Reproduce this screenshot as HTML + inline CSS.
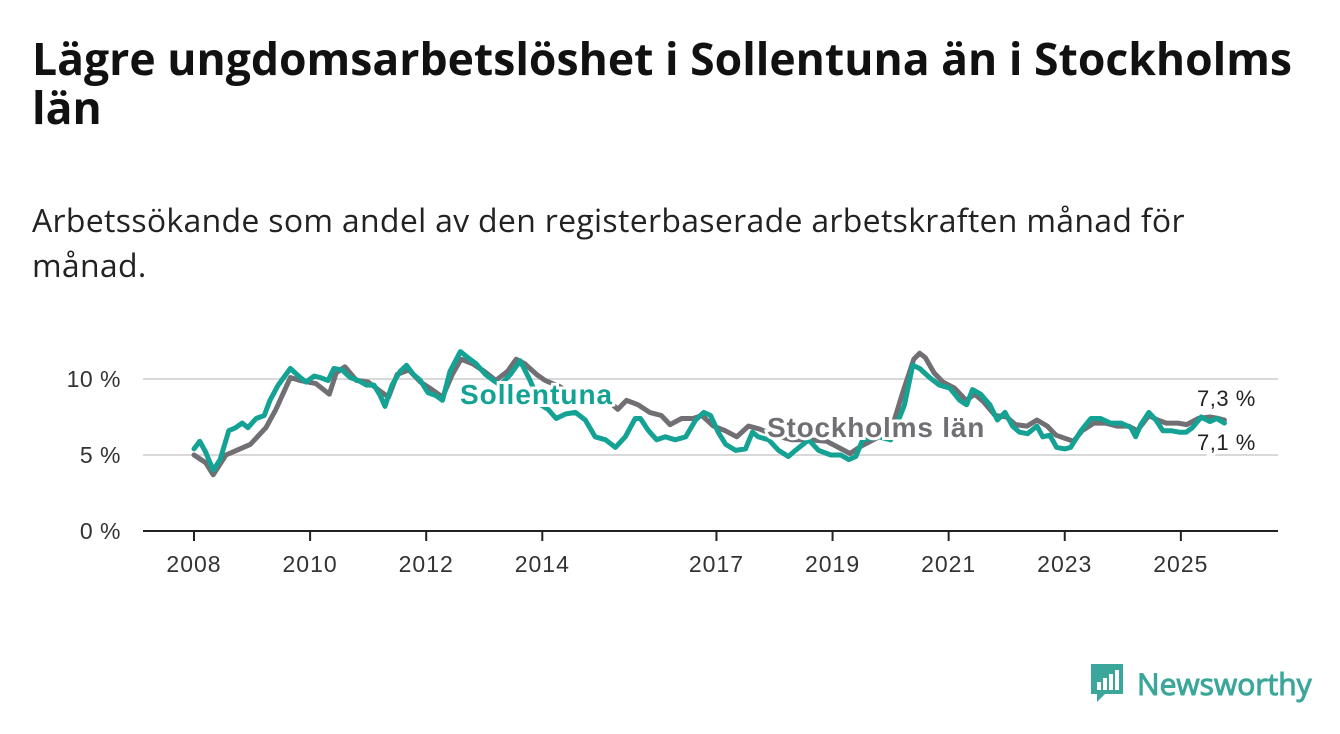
<!DOCTYPE html>
<html><head><meta charset="utf-8"><style>
body{margin:0;width:1340px;height:734px;background:#fff;font-family:"Open Sans","Liberation Sans",sans-serif;overflow:hidden;position:relative}
h1{position:absolute;left:32px;top:34px;margin:0;width:1275px;font-size:44.5px;line-height:49px;font-weight:bold;color:#111}
.sub{position:absolute;left:32px;top:198px;width:1200px;font-size:32px;line-height:45px;color:#222;letter-spacing:0.3px}
svg{position:absolute;left:0;top:0}
</style></head><body>
<h1>Lägre ungdomsarbetslöshet i Sollentuna än i Stockholms län</h1>
<div class="sub">Arbetssökande som andel av den registerbaserade arbetskraften månad för månad.</div>
<svg id="chart" width="1340" height="734"></svg>
<div style="position:absolute;left:1089px;top:662px;display:flex;align-items:center">
<svg width="36" height="42" style="position:static"><path d="M2 2h32v30H16l-8 8v-8H2z" fill="#3aa79a"/><rect x="8" y="20" width="4" height="8" fill="#fff"/><rect x="14" y="16" width="4" height="12" fill="#fff"/><rect x="20" y="12" width="4" height="16" fill="#fff"/><rect x="26" y="8" width="4" height="20" fill="#fff"/></svg>
<span style="margin-left:12px;font-size:30px;color:#3aa79a;font-weight:normal;-webkit-text-stroke:1px #3aa79a">Newsworthy</span></div>
<script>
const tealYears=[2008.0,2008.1,2008.2,2008.33,2008.45,2008.6,2008.72,2008.83,2008.93,2009.07,2009.21,2009.31,2009.45,2009.66,2009.83,2009.93,2010.07,2010.17,2010.31,2010.41,2010.55,2010.69,2010.83,2010.97,2011.1,2011.21,2011.29,2011.41,2011.55,2011.66,2011.78,2011.9,2012.03,2012.17,2012.28,2012.41,2012.59,2012.72,2012.86,2013.02,2013.16,2013.28,2013.45,2013.62,2013.79,2013.97,2014.1,2014.24,2014.4,2014.57,2014.74,2014.91,2015.09,2015.26,2015.43,2015.6,2015.69,2015.83,2015.97,2016.12,2016.29,2016.47,2016.64,2016.78,2016.9,2017.03,2017.16,2017.33,2017.5,2017.62,2017.72,2017.9,2018.07,2018.24,2018.36,2018.59,2018.76,2018.97,2019.14,2019.28,2019.4,2019.52,2019.8,2020.0,2020.24,2020.38,2020.5,2020.67,2020.84,2021.02,2021.19,2021.31,2021.41,2021.55,2021.71,2021.84,2021.97,2022.1,2022.22,2022.36,2022.52,2022.62,2022.74,2022.86,2023.0,2023.1,2023.28,2023.45,2023.62,2023.79,2023.97,2024.14,2024.22,2024.31,2024.45,2024.57,2024.69,2024.83,2024.97,2025.09,2025.2,2025.35,2025.5,2025.62,2025.75];
const tealValues=[5.4,5.9,5.2,4.0,4.7,6.6,6.8,7.1,6.8,7.4,7.6,8.6,9.6,10.7,10.1,9.8,10.2,10.1,9.9,10.7,10.6,10.1,9.9,9.6,9.6,8.9,8.2,9.6,10.5,10.9,10.3,9.9,9.1,8.9,8.6,10.5,11.8,11.4,11.0,10.3,9.9,9.6,10.3,11.2,9.9,8.3,8.0,7.4,7.7,7.8,7.3,6.2,6.0,5.5,6.2,7.4,7.4,6.6,6.0,6.2,6.0,6.2,7.3,7.8,7.6,6.5,5.7,5.3,5.4,6.5,6.2,6.0,5.3,4.9,5.3,6.0,5.3,5.0,5.0,4.7,4.9,6.0,6.2,6.0,8.3,10.9,10.7,10.1,9.6,9.4,8.6,8.3,9.3,9.0,8.3,7.3,7.8,6.9,6.5,6.4,6.9,6.2,6.3,5.5,5.4,5.5,6.6,7.4,7.4,7.1,7.1,6.8,6.2,7.0,7.8,7.3,6.6,6.6,6.5,6.5,6.8,7.5,7.2,7.4,7.1];
const grayYears=[2008.0,2008.2,2008.33,2008.55,2008.79,2008.97,2009.24,2009.41,2009.66,2009.83,2010.1,2010.33,2010.45,2010.6,2010.8,2011.0,2011.21,2011.35,2011.5,2011.7,2011.9,2012.1,2012.28,2012.45,2012.6,2012.8,2013.0,2013.2,2013.4,2013.55,2013.7,2013.9,2014.05,2014.3,2014.5,2014.7,2014.9,2015.1,2015.3,2015.45,2015.65,2015.85,2016.05,2016.2,2016.4,2016.6,2016.75,2016.95,2017.15,2017.35,2017.55,2017.75,2018.0,2018.3,2018.6,2018.9,2019.1,2019.3,2019.5,2019.8,2020.0,2020.2,2020.4,2020.5,2020.6,2020.75,2020.9,2021.1,2021.3,2021.45,2021.6,2021.8,2022.0,2022.15,2022.35,2022.52,2022.7,2022.85,2023.0,2023.15,2023.3,2023.5,2023.7,2023.9,2024.1,2024.25,2024.45,2024.6,2024.75,2024.95,2025.1,2025.3,2025.5,2025.65,2025.75];
const grayValues=[5.0,4.5,3.7,5.0,5.4,5.7,6.8,8.0,10.1,9.9,9.7,9.0,10.4,10.8,9.9,9.8,9.2,8.8,10.3,10.6,9.8,9.3,8.8,10.3,11.3,11.0,10.5,9.9,10.5,11.3,11.0,10.3,9.9,9.5,9.0,9.3,8.6,8.7,8.0,8.6,8.3,7.8,7.6,7.0,7.4,7.4,7.6,6.9,6.6,6.2,6.9,6.7,6.3,6.0,6.0,5.9,5.5,5.1,5.6,6.2,6.5,9.0,11.3,11.7,11.4,10.4,9.8,9.4,8.6,9.0,8.5,7.6,7.5,7.0,6.9,7.3,6.9,6.3,6.1,5.9,6.6,7.1,7.1,6.9,6.9,6.6,7.6,7.3,7.1,7.1,7.0,7.4,7.5,7.4,7.3];
const yTicks=[0,5,10];
const yTickLabels=["0 %","5 %","10 %"];
const xTicks=[2008,2010,2012,2014,2017,2019,2021,2023,2025];
const NS="http://www.w3.org/2000/svg";
const svg=document.getElementById('chart');
const X=y=>194+(y-2008)*58.05;
const Y=v=>531-v*15.2;
function mk(t,a,p){const e=document.createElementNS(NS,t);for(const k in a)e.setAttribute(k,a[k]);(p||svg).appendChild(e);return e;}
yTicks.forEach((v,i)=>{
  if(v>0){const g=mk('line',{x1:143,x2:1278,y1:Y(v),y2:Y(v),stroke:'#d9d9d9','stroke-width':2});
  
  }
  const t=mk('text',{x:121,y:Y(v)+8,'text-anchor':'end','font-size':23,fill:'#333','font-family':'Liberation Sans, sans-serif','letter-spacing':'0.5'});
  t.textContent=yTickLabels[i];
  
  
});
const ax=mk('line',{x1:143,x2:1278,y1:531,y2:531,stroke:'#222','stroke-width':2});


xTicks.forEach(yr=>{
  const l=mk('line',{x1:X(yr),x2:X(yr),y1:531,y2:541,stroke:'#222','stroke-width':2});
  
  
  const t=mk('text',{x:X(yr),y:572,'text-anchor':'middle','font-size':23,fill:'#333','font-family':'Liberation Sans, sans-serif','letter-spacing':'1'});
  t.textContent=yr;
  
  
});
function line(xs,vs,col,name){
  const d=xs.map((x,i)=>(i?'L':'M')+X(x).toFixed(1)+','+Y(vs[i]).toFixed(1)).join('');
  const p=mk('path',{d:d,fill:'none',stroke:col,'stroke-width':5,'stroke-linejoin':'round','stroke-linecap':'round'});
  
  
}
line(grayYears,grayValues,'#716f73','stockholm-line');
line(tealYears,tealValues,'#13a294','sollentuna-line');
function label(x,y,txt,col,size,bold,name,ls){
  const a={x:x,y:y,'font-size':size,fill:col,'font-weight':bold?'bold':'normal','font-family':'Liberation Sans, sans-serif',stroke:'#fff','stroke-width':6,'paint-order':'stroke','letter-spacing':ls||0};
  const t=mk('text',a);t.textContent=txt;
  
  
}
label(460,404,'Sollentuna','#13a294',28,true,'sollentuna-label','1');
label(767,437,'Stockholms län','#716f73',28,true,'stockholm-label','0.8');
label(1197,406,'7,3 %','#222',22,false,'stockholm-end-value','0.5');
label(1197,450,'7,1 %','#222',22,false,'sollentuna-end-value','0.5');
</script>
</body></html>
